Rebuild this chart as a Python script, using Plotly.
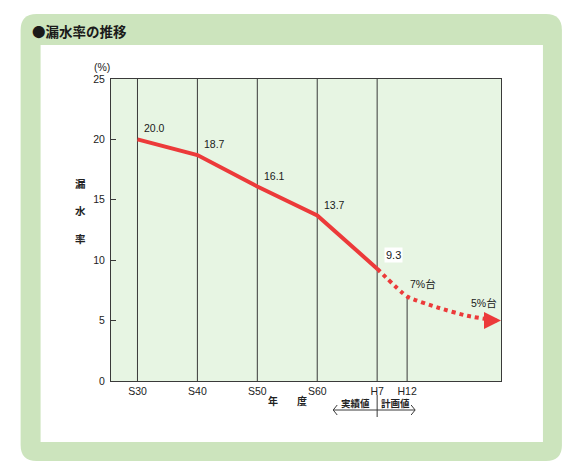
import plotly.graph_objects as go

# ---- data ----
tick_years = [1955, 1965, 1975, 1985, 1995, 2000]
tick_text = ["S30", "S40", "S50", "S60", "H7", "H12"]
years_actual = [1955, 1965, 1975, 1985, 1995]
rate_actual = [20.0, 18.7, 16.1, 13.7, 9.3]
labels_actual = ["20.0", "18.7", "16.1", "13.7", "9.3"]
years_plan = [1995, 2000, 2005, 2010, 2015]
rate_plan = [9.3, 7.0, 6.1, 5.4, 5.0]
y_ticks = [0, 5, 10, 15, 20, 25]

RED = "#ec3a3a"
FRAME = "#cce4bd"
PLOTBG = "#e7f5e3"
LINE = "#3a3a3a"
FONT = "Liberation Sans, Noto Sans CJK JP, sans-serif"
JFONT = "Noto Sans CJK JP, sans-serif"

# plot area in pixels
L, R, T, B = 110.5, 501.0, 79.0, 381.0
W, H = 580, 473


def px(x):
    return (x - L) / (R - L)


def py(y):
    return (B - y) / (B - T)


fig = go.Figure()

fig.add_trace(go.Scatter(
    x=years_actual, y=rate_actual, mode="lines",
    line=dict(color=RED, width=4), hoverinfo="skip", showlegend=False))
fig.add_trace(go.Scatter(
    x=years_plan, y=rate_plan, mode="lines",
    line=dict(color=RED, width=4, dash="dot", shape="spline", smoothing=0.5),
    hoverinfo="skip", showlegend=False))

shapes = []


def rounded(x0, y0, x1, y1, r, color):
    X0, X1 = px(x0), px(x1)
    Y0, Y1 = py(y0), py(y1)
    rx = r / (R - L)
    ry = r / (B - T)
    p = (f"M {X0+rx},{Y0} L {X1-rx},{Y0} Q {X1},{Y0} {X1},{Y0-ry} "
         f"L {X1},{Y1+ry} Q {X1},{Y1} {X1-rx},{Y1} "
         f"L {X0+rx},{Y1} Q {X0},{Y1} {X0},{Y1+ry} "
         f"L {X0},{Y0-ry} Q {X0},{Y0} {X0+rx},{Y0} Z")
    return dict(type="path", xref="paper", yref="paper", path=p,
                fillcolor=color, line=dict(width=0), layer="below")


shapes.append(rounded(20, 14, 562, 461, 16, FRAME))
shapes.append(dict(type="rect", xref="paper", yref="paper",
                   x0=px(40), x1=px(543), y0=py(442), y1=py(45),
                   fillcolor="white", line=dict(width=0), layer="below"))
shapes.append(dict(type="rect", xref="paper", yref="paper",
                   x0=0, x1=1, y0=0, y1=1,
                   fillcolor=PLOTBG, line=dict(width=0), layer="below"))

# vertical lines at each year tick
for yr in tick_years:
    if yr in years_actual:
        shapes.append(dict(type="line", xref="x", yref="paper", x0=yr, x1=yr,
                           y0=0, y1=1, line=dict(color=LINE, width=1), layer="below"))
    else:
        top = rate_plan[years_plan.index(yr)]
        shapes.append(dict(type="line", xref="x", yref="y", x0=yr, x1=yr,
                           y0=0, y1=top, line=dict(color=LINE, width=1), layer="below"))

# 実績値 / 計画値 bracket
h7 = years_actual[-1]
shapes.append(dict(type="line", xref="x", yref="paper", x0=h7, x1=h7,
                   y0=py(417), y1=py(395), line=dict(color=LINE, width=1)))
shapes.append(dict(type="line", xref="paper", yref="paper", x0=px(333), x1=px(415),
                   y0=py(410), y1=py(410), line=dict(color=LINE, width=1)))
shapes.append(dict(type="path", xref="paper", yref="paper",
                   path=f"M {px(337)},{py(405)} L {px(333)},{py(410)} L {px(337)},{py(415)}",
                   line=dict(color=LINE, width=1)))
shapes.append(dict(type="path", xref="paper", yref="paper",
                   path=f"M {px(411)},{py(405)} L {px(415)},{py(410)} L {px(411)},{py(415)}",
                   line=dict(color=LINE, width=1)))

ann = []
# title
ann.append(dict(xref="paper", yref="paper", x=px(29), y=py(31), xanchor="left",
                yanchor="middle", showarrow=False, text="<b>●漏水率の推移</b>",
                font=dict(family=JFONT, size=13.5, color="#1a1a1a")))
# (%)
ann.append(dict(xref="paper", yref="paper", x=px(101), y=py(67), xanchor="center",
                yanchor="middle", showarrow=False, text="(%)",
                font=dict(family=FONT, size=10.5, color="#222")))
# y title
ann.append(dict(xref="paper", yref="paper", x=px(80), y=py(211), xanchor="center",
                yanchor="middle", showarrow=False, text="<b>漏</b><br><br><b>水</b><br><br><b>率</b>",
                font=dict(family=JFONT, size=10.5, color="#222")))
# x title
ann.append(dict(xref="paper", yref="paper", x=px(273), y=py(401), xanchor="center",
                yanchor="middle", showarrow=False, text="<b>年</b>",
                font=dict(family=JFONT, size=10, color="#222")))
ann.append(dict(xref="paper", yref="paper", x=px(302), y=py(401), xanchor="center",
                yanchor="middle", showarrow=False, text="<b>度</b>",
                font=dict(family=JFONT, size=10, color="#222")))
ann.append(dict(xref="paper", yref="paper", x=px(355), y=py(403), xanchor="center",
                yanchor="middle", showarrow=False, text="<b>実績値</b>",
                font=dict(family=JFONT, size=9.5, color="#222")))
ann.append(dict(xref="paper", yref="paper", x=px(395), y=py(403), xanchor="center",
                yanchor="middle", showarrow=False, text="<b>計画値</b>",
                font=dict(family=JFONT, size=9.5, color="#222")))

# value labels
for i, (x, y, t) in enumerate(zip(years_actual, rate_actual, labels_actual)):
    last = i == len(years_actual) - 1
    ann.append(dict(x=x, y=y, xref="x", yref="y", text=t, showarrow=False,
                    xanchor="left", yanchor="bottom",
                    xshift=7 if last else 5, yshift=6 if last else 3,
                    bgcolor="white" if last else None,
                    font=dict(family=FONT, size=11 if last else 10.5, color="#1a1a1a")))
ann.append(dict(x=years_plan[1], y=rate_plan[1], xref="x", yref="y", text="7%台",
                showarrow=False, xanchor="left", yanchor="bottom", xshift=1, yshift=4,
                font=dict(family=FONT, size=10.5, color="#1a1a1a")))
ann.append(dict(x=years_plan[-1], y=rate_plan[-1], xref="x", yref="y", text="5%台",
                showarrow=False, xanchor="right", yanchor="bottom", xshift=2, yshift=10,
                font=dict(family=FONT, size=10.5, color="#1a1a1a")))
# arrow head at the end of the plan line
ann.append(dict(x=years_plan[-1], y=rate_plan[-1], xref="x", yref="y", text="",
                showarrow=True, ax=-12, ay=0, xshift=4, arrowhead=2, arrowsize=0.85,
                arrowwidth=4, arrowcolor=RED))

fig.update_layout(
    width=W, height=H,
    margin=dict(l=L, r=W - R, t=T, b=H - B),
    paper_bgcolor="white", plot_bgcolor="rgba(0,0,0,0)",
    shapes=shapes, annotations=ann,
    font=dict(family=FONT, size=11, color="#222"),
    xaxis=dict(range=[1950.58, 2015.67], tickvals=tick_years, ticktext=tick_text,
               showgrid=False, zeroline=False, ticks="", showline=True, mirror=True,
               linecolor=LINE, linewidth=1, tickfont=dict(size=10.5, color="#222")),
    yaxis=dict(range=[0, 25], tickvals=y_ticks, showgrid=False, zeroline=False,
               ticks="inside", ticklen=5, tickcolor=LINE, showline=True, mirror=True,
               linecolor=LINE, linewidth=1, ticklabelstandoff=3,
               tickfont=dict(size=10.5, color="#222")),
)

fig.write_html("out.html", config={"displayModeBar": False},
               post_script="document.body.style.margin='0';")
